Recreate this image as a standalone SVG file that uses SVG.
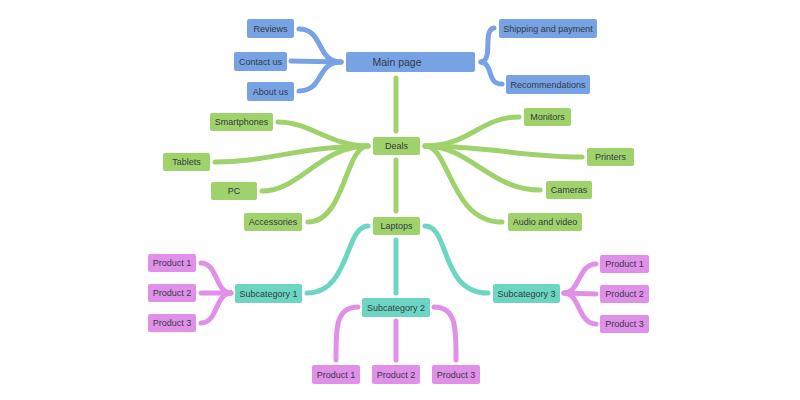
<svg xmlns="http://www.w3.org/2000/svg" width="800" height="400" viewBox="0 0 800 400">
<style>
.n rect{rx:2;ry:2}
.b rect{fill:#77a2e4}
.g rect{fill:#9fd26b}
.t rect{fill:#6dd6c2}
.p rect{fill:#e190e9}
text{font-family:"Liberation Sans",Arial,sans-serif;font-size:9px;fill:#333a44;text-anchor:middle;dominant-baseline:central}
.c path{fill:none;stroke-width:5;stroke-linecap:round}
.cb path{stroke:#77a2e4}
.cg path{stroke:#9fd26b}
.ct path{stroke:#6dd6c2}
.cp path{stroke:#e190e9}
</style>
<rect width="800" height="400" fill="#fff"/>
<g id="connectors" class="c">
<g class="cb">
<path d="M341 62 C316 62 324 29 299 29"/>
<path d="M341 62 L291 61"/>
<path d="M341 62 C316 62 324 91 299 91"/>
<path d="M481 62 C494 60 482 30 494 28"/>
<path d="M481 62 C494 64 486 84 502 84"/>
</g>
<g class="cg">
<path d="M396 78 L396 131"/>
<path d="M368 146 C330 146 310 122 278 122"/>
<path d="M368 146 C300 146 270 162 215 162"/>
<path d="M368 146 C320 146 300 191 262 191"/>
<path d="M368 146 C345 146 345 222 308 222"/>
<path d="M425 146 C470 146 480 117 519 117"/>
<path d="M425 146 C490 146 520 157 582 157"/>
<path d="M425 146 C470 146 490 190 540 190"/>
<path d="M425 146 C450 146 450 222 502 222"/>
<path d="M396 160 L396 211"/>
</g>
<g class="ct">
<path d="M368 226 C345 226 350 293 307 293"/>
<path d="M396 240 L396 293"/>
<path d="M425 226 C450 226 440 293 488 293"/>
</g>
<g class="cp">
<path d="M231 293 C215 293 218 263 201 263"/>
<path d="M231 293 L201 293"/>
<path d="M231 293 C215 293 218 323 201 323"/>
<path d="M564 293 C580 293 578 264 596 264"/>
<path d="M564 293 L596 294"/>
<path d="M564 293 C580 293 578 324 596 324"/>
<path d="M358 307 C335 307 336 330 336 360"/>
<path d="M396 321 L396 360"/>
<path d="M434 307 C457 307 456 330 456 360"/>
</g>
</g>
<g id="main" class="n b"><rect x="346" y="52" width="129" height="20"/><text x="397" y="62" style="font-size:10.5px">Main page</text></g>
<g id="reviews" class="n b"><rect x="247" y="19" width="47" height="19"/><text x="270.5" y="28.5">Reviews</text></g>
<g id="contact" class="n b"><rect x="234" y="52" width="53" height="19"/><text x="260.5" y="61.5">Contact us</text></g>
<g id="about" class="n b"><rect x="247" y="82" width="47" height="19"/><text x="270.5" y="91.5">About us</text></g>
<g id="shipping" class="n b"><rect x="499" y="19" width="98" height="19"/><text x="548" y="28.5">Shipping and payment</text></g>
<g id="recommendations" class="n b"><rect x="506" y="75" width="84" height="19"/><text x="548" y="84.5">Recommendations</text></g>
<g id="deals" class="n g"><rect x="373" y="137" width="47" height="18"/><text x="396.5" y="146">Deals</text></g>
<g id="smartphones" class="n g"><rect x="210" y="113" width="63" height="18"/><text x="241.5" y="122">Smartphones</text></g>
<g id="tablets" class="n g"><rect x="163" y="153" width="47" height="18"/><text x="186.5" y="162">Tablets</text></g>
<g id="pc" class="n g"><rect x="211" y="182" width="46" height="18"/><text x="234" y="191">PC</text></g>
<g id="accessories" class="n g"><rect x="244" y="213" width="58" height="18"/><text x="273" y="222">Accessories</text></g>
<g id="monitors" class="n g"><rect x="524" y="108" width="47" height="18"/><text x="547.5" y="117">Monitors</text></g>
<g id="printers" class="n g"><rect x="587" y="148" width="47" height="18"/><text x="610.5" y="157">Printers</text></g>
<g id="cameras" class="n g"><rect x="546" y="181" width="46" height="18"/><text x="569" y="190">Cameras</text></g>
<g id="audio" class="n g"><rect x="508" y="213" width="74" height="18"/><text x="545" y="222">Audio and video</text></g>
<g id="laptops" class="n g"><rect x="373" y="217" width="47" height="18"/><text x="396.5" y="226">Laptops</text></g>
<g id="sub1" class="n t"><rect x="235" y="284" width="67" height="19"/><text x="268.5" y="293.5">Subcategory 1</text></g>
<g id="sub2" class="n t"><rect x="362" y="298" width="68" height="19"/><text x="396" y="307.5">Subcategory 2</text></g>
<g id="sub3" class="n t"><rect x="493" y="284" width="67" height="19"/><text x="526.5" y="293.5">Subcategory 3</text></g>
<g id="l1" class="n p"><rect x="148" y="254" width="48" height="18"/><text x="172" y="263">Product 1</text></g>
<g id="l2" class="n p"><rect x="148" y="284" width="48" height="18"/><text x="172" y="293">Product 2</text></g>
<g id="l3" class="n p"><rect x="148" y="314" width="48" height="18"/><text x="172" y="323">Product 3</text></g>
<g id="r1" class="n p"><rect x="600" y="255" width="49" height="18"/><text x="624.5" y="264">Product 1</text></g>
<g id="r2" class="n p"><rect x="600" y="285" width="49" height="18"/><text x="624.5" y="294">Product 2</text></g>
<g id="r3" class="n p"><rect x="600" y="315" width="49" height="18"/><text x="624.5" y="324">Product 3</text></g>
<g id="b1" class="n p"><rect x="312" y="365" width="48" height="19"/><text x="336" y="374.5">Product 1</text></g>
<g id="b2" class="n p"><rect x="372" y="365" width="48" height="19"/><text x="396" y="374.5">Product 2</text></g>
<g id="b3" class="n p"><rect x="432" y="365" width="48" height="19"/><text x="456" y="374.5">Product 3</text></g>
</svg>
